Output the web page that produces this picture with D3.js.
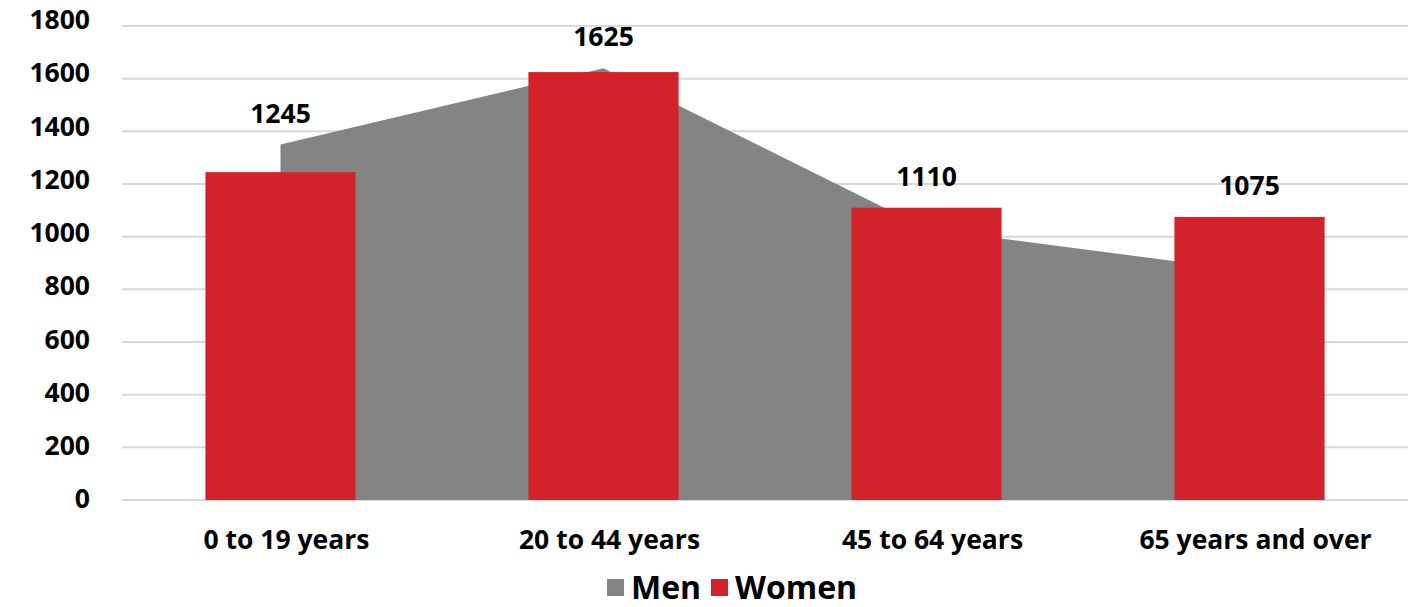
<!DOCTYPE html>
<html>
<head>
<meta charset="utf-8">
<script src="https://cdn.jsdelivr.net/npm/d3@7"></script>
<style>
  body { margin: 0; background: #fff; }
  text { font-family: "Open Sans", sans-serif; font-weight: bold; fill: #000; }
</style>
</head>
<body>
<div id="chart-area"></div>
<script>
// chart data
const categories = ["0 to 19 years", "20 to 44 years", "45 to 64 years", "65 years and over"]
const men = [1350, 1640, 1030, 870]
const women = [1245, 1625, 1110, 1075]
const yTicks = [0, 200, 400, 600, 800, 1000, 1200, 1400, 1600, 1800]

const W = 1415, H = 607
const margin = { left: 119, right: 4, top: 26, bottom: 107 }
const width = W - margin.left - margin.right
const height = H - margin.top - margin.bottom

const svg = d3.select("#chart-area").append("svg")
	.attr("width", W)
	.attr("height", H)

const g = svg.append("g")
	.attr("transform", `translate(${margin.left},${margin.top})`)

const x = d3.scaleBand()
	.domain(categories)
	.range([0, width])
	.paddingInner(0.535)
	.paddingOuter(0.2675)

const y = d3.scaleLinear()
	.domain([0, 1800])
	.range([height, 0])

// gridlines
g.append("g")
	.selectAll("line")
	.data(yTicks)
	.enter().append("line")
	.attr("x1", 3)
	.attr("x2", width - 3)
	.attr("y1", d => y(d))
	.attr("y2", d => y(d))
	.attr("stroke", "#d9d9d9")
	.attr("stroke-width", 2)

// y axis labels (slightly spread upward like the original)
const yAxis = d3.axisLeft(y).tickValues(yTicks).tickFormat(d3.format("d")).tickSize(0).tickPadding(29)
g.append("g")
	.call(yAxis)
	.call(a => a.select(".domain").remove())
	.selectAll("text")
	.attr("font-size", "26.5px")
	.attr("dy", "0.3em")
	.attr("y", d => -d / 1800 * 5.5)

// x axis labels
const xAxis = d3.axisBottom(x).tickSize(0).tickPadding(30)
g.append("g")
	.attr("transform", `translate(0,${height})`)
	.call(xAxis)
	.call(a => a.select(".domain").remove())
	.selectAll("text")
	.attr("font-size", "26.5px")
	.attr("dx", 6)

// Men area, from centre to centre of categories
const cx = c => x(c) + x.bandwidth() / 2
const area = d3.area()
	.x((d, i) => cx(categories[i]))
	.y0(y(0))
	.y1(d => y(d))
g.append("path")
	.datum(men)
	.attr("fill", "#848484")
	.attr("d", area)

// Women bars
g.selectAll(".bar")
	.data(women)
	.enter().append("rect")
	.attr("class", "bar")
	.attr("x", (d, i) => x(categories[i]))
	.attr("width", x.bandwidth())
	.attr("y", d => y(d))
	.attr("height", d => height - y(d))
	.attr("fill", "#d2232a")

// value labels above the highest mark of each category
g.selectAll(".label")
	.data(women)
	.enter().append("text")
	.attr("class", "label")
	.attr("x", (d, i) => cx(categories[i]))
	.attr("y", (d, i) => y(Math.max(d, men[i])) - 31)
	.attr("dy", "0.35em")
	.attr("text-anchor", "middle")
	.attr("font-size", "26.5px")
	.text(d => d)

// legend
const legend = svg.append("g").attr("transform", "translate(607,579)")
const items = [["Men", "#848484", 0], ["Women", "#d2232a", 104]]
items.forEach(([name, color, dx]) => {
	legend.append("rect")
		.attr("x", dx).attr("y", 0)
		.attr("width", 17).attr("height", 17)
		.attr("fill", color)
	legend.append("text")
		.attr("x", dx + 24).attr("y", 9)
		.attr("dy", "0.35em")
		.attr("font-size", "32px")
		.text(name)
})
</script>
</body>
</html>
